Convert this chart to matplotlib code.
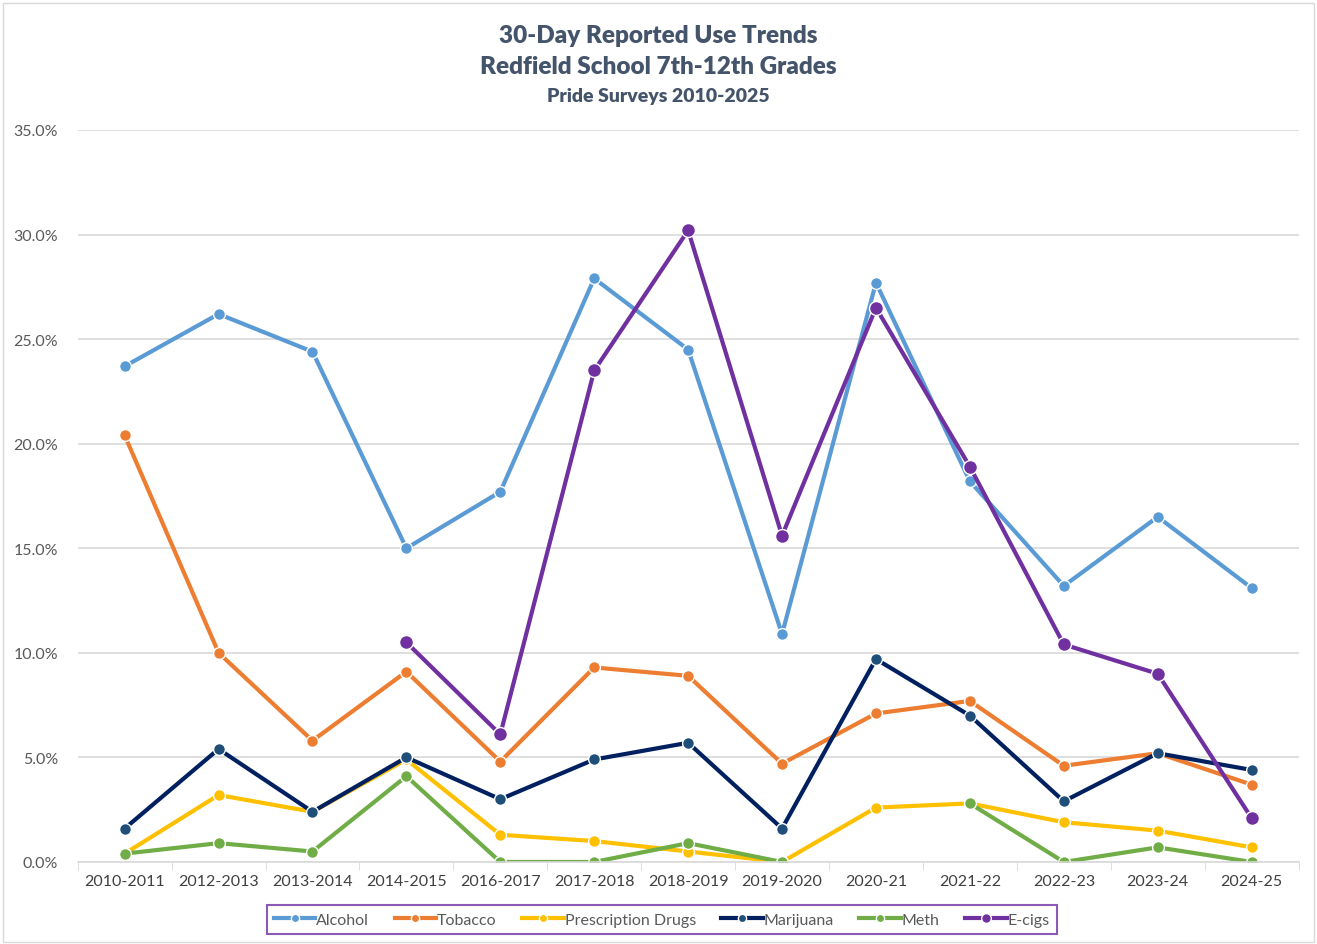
import matplotlib
matplotlib.use('Agg')
import matplotlib.pyplot as plt
import matplotlib.patches as patches
from matplotlib.ticker import FuncFormatter
import numpy as np

# Datos (porcentaje)
anios = ['2010-2011', '2012-2013', '2013-2014', '2014-2015', '2016-2017', '2017-2018',
         '2018-2019', '2019-2020', '2020-21', '2021-22', '2022-23', '2023-24', '2024-25']
alcohol = [23.7, 26.2, 24.4, 15.0, 17.7, 27.9, 24.5, 10.9, 27.7, 18.2, 13.2, 16.5, 13.1]
tabaco = [20.4, 10.0, 5.8, 9.1, 4.8, 9.3, 8.9, 4.7, 7.1, 7.7, 4.6, 5.2, 3.7]
recetados = [0.4, 3.2, 2.4, 4.9, 1.3, 1.0, 0.5, 0.0, 2.6, 2.8, 1.9, 1.5, 0.7]
marihuana = [1.6, 5.4, 2.4, 5.0, 3.0, 4.9, 5.7, 1.6, 9.7, 7.0, 2.9, 5.2, 4.4]
meth = [0.4, 0.9, 0.5, 4.1, 0.0, 0.0, 0.9, 0.0, None, 2.8, 0.0, 0.7, 0.0]
ecigs = [None, None, None, 10.5, 6.1, 23.5, 30.2, 15.6, 26.5, 18.9, 10.4, 9.0, 2.1]

series = [('Alcohol', alcohol, '#5B9BD5', '#5B9BD5', 8.5),
          ('Tobacco', tabaco, '#ED7D31', '#ED7D31', 8.5),
          ('Prescription Drugs', recetados, '#FFC000', '#FFC000', 8.5),
          ('Marijuana', marihuana, '#002060', '#1F4E79', 8.5),
          ('Meth', meth, '#70AD47', '#70AD47', 8.5),
          ('E-cigs', ecigs, '#7030A0', '#7030A0', 10)]

plt.rcParams['font.family'] = ['Lato', 'DejaVu Sans']

fig = plt.figure(figsize=(13.17, 9.45), dpi=100)
ax = fig.add_axes([0.059, 0.0868, 0.927, 0.7746])

x = np.arange(len(anios))
for nombre, valores, color, cmarca, tam in series:
    y = np.array([np.nan if v is None else v for v in valores])
    ax.plot(x, y, color=color, linewidth=3, marker='o', markersize=tam,
            markerfacecolor=cmarca, markeredgecolor='white', markeredgewidth=1.0,
            label=nombre)

ax.set_ylim(0, 35)
ax.set_xlim(-0.5, len(anios) - 0.5)
ax.set_yticks(np.arange(0, 36, 5))
ax.yaxis.set_major_formatter(FuncFormatter(lambda v, p: f'{v:.1f}%'))
ax.grid(axis='y', color='#D9D9D9', linewidth=1.2)
ax.set_axisbelow(True)

ax.set_xticks(x)
ax.set_xticklabels(anios)
ax.set_xticks(np.arange(-0.5, len(anios), 1), minor=True)
ax.tick_params(axis='x', which='major', length=0, pad=9, labelsize=11.5, labelcolor='#404040')
ax.tick_params(axis='x', which='minor', length=6, color='#D9D9D9')
ax.tick_params(axis='y', length=0, pad=14, labelsize=11.5, labelcolor='#595959')

for lado in ['top', 'right', 'left']:
    ax.spines[lado].set_visible(False)
ax.spines['bottom'].set_color('#D9D9D9')
ax.spines['bottom'].set_linewidth(1.2)

# Titulos
fig.text(0.5, 0.962, '30-Day Reported Use Trends', ha='center', va='center',
         fontsize=17.5, weight='heavy', color='#44546A')
fig.text(0.5, 0.929, 'Redfield School 7th-12th Grades', ha='center', va='center',
         fontsize=17.5, weight='heavy', color='#44546A')
fig.text(0.5, 0.898, 'Pride Surveys 2010-2025', ha='center', va='center',
         fontsize=14, weight='heavy', color='#44546A')

# Leyenda
leg = fig.legend(loc='center', bbox_to_anchor=(0.5025, 0.026), ncol=6, frameon=True,
                 fontsize=11.5, handlelength=2.6, handletextpad=0.05, columnspacing=1.6,
                 fancybox=False, borderpad=0.45, borderaxespad=0)
leg.get_frame().set_edgecolor('#7030A0')
leg.get_frame().set_linewidth(1.5)
for t in leg.get_texts():
    t.set_color('#595959')
for h in leg.legend_handles:
    h.set_markersize(h.get_markersize() * 0.7)

# Borde de la figura
fig.patches.append(patches.Rectangle((0.002, 0.002), 0.996, 0.994, transform=fig.transFigure,
                                     fill=False, edgecolor='#D9D9D9', linewidth=1))

fig.savefig('out.png')
